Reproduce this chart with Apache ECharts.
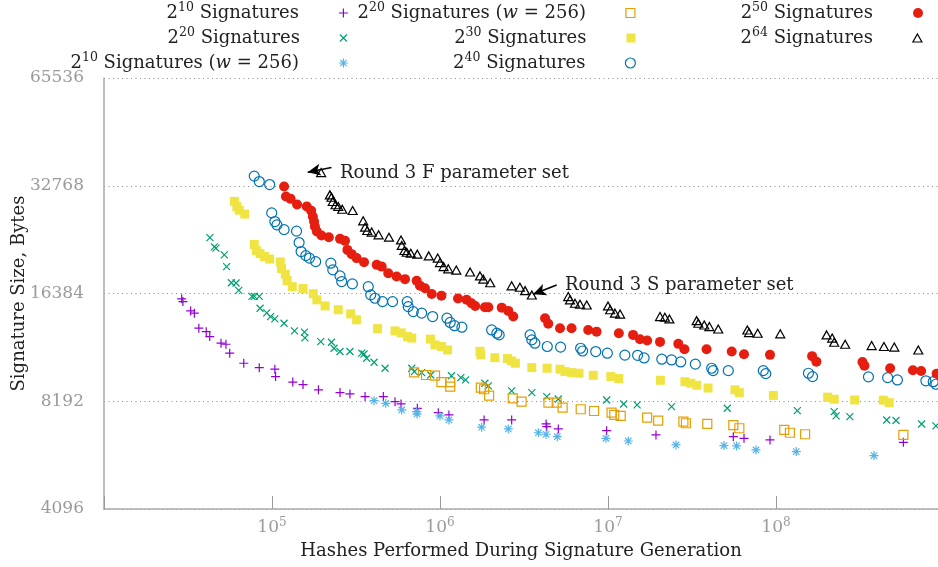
<!DOCTYPE html>
<html><head><meta charset="utf-8">
<script src="https://cdn.jsdelivr.net/npm/echarts@6/dist/echarts.min.js"></script>
<style>html,body{margin:0;padding:0;background:#fff}#c{width:938px;height:567px}</style>
</head><body><div id="c"></div>
<script>
// ---------------- data ----------------
const xTickExponents = [5, 6, 7, 8];
const xRange = [1e4, 9.21e8];
const yTickLabels = [4096, 8192, 16384, 32768, 65536];
const seriesNames = ['2^10 Signatures', '2^20 Signatures', '2^10 Signatures (w=256)', '2^20 Signatures (w=256)',
  '2^30 Signatures', '2^40 Signatures', '2^50 Signatures', '2^64 Signatures'];

const sig10 = [[2.90e4,15830],[2.95e4,15550],[3.28e4,14650],[3.45e4,14440],[3.67e4,13110],[4.06e4,12820],[4.26e4,12420],
  [4.97e4,11900],[5.32e4,11820],[5.60e4,11160],[6.79e4,10460],[8.40e4,10170],[1.04e5,10070],[1.05e5,9600],[1.33e5,9265],
  [1.53e5,9120],[1.89e5,8815],[2.54e5,8660],[2.91e5,8585],[3.58e5,8440],[4.60e5,8440],[5.40e5,8170],[5.86e5,8050],
  [7.33e5,7830],[9.77e5,7612],[1.13e6,7502],[1.83e6,7263],[2.67e6,7263],[4.28e6,7078],[4.32e6,6955],[5.06e6,6855],
  [9.82e6,6780],[1.93e7,6595],[5.57e7,6522],[6.45e7,6454],[9.21e7,6387],[5.73e8,6290]];

const sig20 = [[4.27e4,23480],[4.54e4,22120],[4.64e4,21940],[5.20e4,21000],[5.37e4,19480],[5.73e4,17560],[6.11e4,17530],
  [6.34e4,16710],[7.60e4,16080],[7.85e4,16080],[8.40e4,16080],[8.49e4,14900],[9.30e4,14470],[9.80e4,14125],[1.04e5,13915],
  [1.18e5,13530],[1.36e5,12880],[1.56e5,12775],[1.57e5,12315],[1.95e5,12020],[2.26e5,11976],[2.34e5,11520],[2.54e5,11280],
  [2.91e5,11280],[3.42e5,11160],[3.53e5,11105],[3.66e5,10805],[4.05e5,10530],[4.71e5,10130],[6.79e5,10130],[7.04e5,9915],
  [7.78e5,9850],[8.81e5,9700],[1.17e6,9655],[1.33e6,9535],[1.42e6,9395],[1.85e6,9200],[1.94e6,9045],[2.67e6,8760],
  [3.52e6,8660],[4.32e6,8440],[5.06e6,8312],[9.82e6,8260],[1.24e7,8050],[1.49e7,8000],[2.39e7,7910],[5.13e7,7830],
  [1.34e8,7710],[2.22e8,7660],[2.28e8,7455],[2.75e8,7420],[4.56e8,7263],[5.18e8,7240],[7.36e8,7078],[8.95e8,6990]];

const sig10w = [[4.05e5,8225],[4.75e5,8085],[5.92e5,7745],[7.26e5,7660],[7.30e5,7550],[1.00e6,7455],[1.13e6,7263],
  [1.77e6,6932],[2.55e6,6855],[3.85e6,6690],[4.28e6,6625],[4.99e6,6522],[9.72e6,6454],[1.32e7,6344],[2.54e7,6185],
  [4.90e7,6160],[5.83e7,6147],[7.60e7,5990],[1.32e8,5925],[3.83e8,5775]];

const sig20w = [[7.00e5,9870],[8.26e5,9700],[9.34e5,9655],[1.02e6,9265],[1.15e6,9265],[1.15e6,9005],[1.75e6,8945],
  [1.83e6,8850],[1.96e6,8495],[2.71e6,8350],[3.06e6,8170],[4.42e6,8118],[4.95e6,8118],[5.37e6,7860],[6.88e6,7780],
  [8.26e6,7695],[1.05e7,7612],[1.09e7,7502],[1.19e7,7455],[1.71e7,7375],[1.99e7,7235],[2.81e7,7190],[2.91e7,7110],
  [3.90e7,7078],[5.57e7,7030],[6.05e7,6885],[1.12e8,6810],[1.21e8,6690],[1.49e8,6625],[5.73e8,6595]];

const sig30 = [[5.97e4,29640],[6.18e4,28670],[6.38e4,28000],[6.88e4,27310],[7.84e4,22450],[8.07e4,21580],[8.49e4,21180],
  [9.02e4,20790],[9.68e4,20450],[1.12e5,20075],[1.14e5,19240],[1.20e5,18560],[1.23e5,17810],[1.32e5,17120],[1.53e5,16910],
  [1.76e5,16360],[1.85e5,15730],[2.07e5,15125],[2.48e5,14760],[2.94e5,14375],[3.19e5,13830],[4.25e5,13070],[5.40e5,12880],
  [5.88e5,12715],[6.41e5,12420],[6.79e5,12300],[8.77e5,12222],[9.33e5,11770],[1.02e6,11650],[1.11e6,11395],[1.73e6,11300],
  [1.75e6,11040],[2.12e6,10840],[2.52e6,10780],[2.67e6,10615],[2.81e6,10460],[3.52e6,10170],[4.34e6,10130],[5.18e6,10070],
  [5.54e6,9915],[6.08e6,9850],[6.72e6,9810],[8.17e6,9680],[1.04e7,9600],[1.16e7,9480],[2.05e7,9375],[2.87e7,9290],
  [3.11e7,9200],[3.38e7,9080],[3.94e7,8920],[5.70e7,8815],[6.05e7,8660],[9.64e7,8505],[2.03e8,8410],[2.22e8,8300],
  [2.94e8,8260],[4.35e8,8250],[4.72e8,8118]];

const sig40 = [[7.84e4,34870],[8.40e4,33660],[9.68e4,33020],[9.96e4,27520],[1.04e5,26030],[1.07e5,25480],[1.18e5,24710],
  [1.40e5,24470],[1.45e5,22740],[1.49e5,21460],[1.59e5,20900],[1.67e5,20575],[1.82e5,20115],[2.24e5,19910],[2.30e5,19075],
  [2.54e5,18350],[2.60e5,17690],[3.01e5,17430],[3.74e5,17120],[3.87e5,16240],[4.10e5,15890],[4.55e5,15553],[5.22e5,15553],
  [6.38e5,15553],[6.47e5,15055],[6.93e5,14580],[7.78e5,14440],[9.04e5,14125],[1.10e6,13980],[1.15e6,13600],[1.22e6,13320],
  [1.35e6,13190],[2.03e6,12960],[2.18e6,12690],[2.25e6,12555],[3.44e6,12555],[3.52e6,12155],[3.67e6,11900],[4.35e6,11650],
  [5.22e6,11605],[6.87e6,11520],[7.06e6,11320],[8.45e6,11280],[9.91e6,11160],[1.26e7,11020],[1.50e7,11010],[1.64e7,10825],
  [2.09e7,10735],[2.39e7,10685],[2.71e7,10550],[3.31e7,10400],[4.14e7,10130],[4.22e7,9975],[5.20e7,9975],[8.40e7,9975],
  [8.69e7,9785],[1.56e8,9810],[1.65e8,9600],[3.55e8,9585],[4.62e8,9535],[5.28e8,9395],[7.80e8,9345],[8.63e8,9290],[8.95e8,9140]];

const sig50 = [[1.18e5,32600],[1.21e5,30570],[1.29e5,30115],[1.41e5,29050],[1.61e5,28670],[1.71e5,27920],[1.75e5,26880],
  [1.78e5,26030],[1.80e5,25200],[1.85e5,24410],[1.97e5,23790],[2.18e5,23540],[2.54e5,23285],[2.72e5,22990],[2.81e5,21690],
  [2.98e5,21105],[3.19e5,20575],[3.53e5,20040],[4.20e5,19700],[4.50e5,19480],[4.92e5,18665],[5.52e5,18270],[6.19e5,17970],
  [7.26e5,17780],[7.60e5,17235],[8.14e5,16945],[8.93e5,16340],[1.02e6,16160],[1.28e6,15870],[1.44e6,15730],[1.54e6,15390],
  [1.62e6,15125],[1.85e6,15000],[1.94e6,15000],[2.33e6,14960],[2.55e6,14650],[2.73e6,14125],[4.22e6,13980],[4.41e6,13480],
  [5.18e6,13107],[6.07e6,13107],[7.62e6,12960],[8.55e6,12820],[1.16e7,12690],[1.41e7,12555],[1.55e7,12210],[1.71e7,12110],
  [2.04e7,12000],[2.62e7,11850],[2.85e7,11450],[3.86e7,11450],[5.45e7,11280],[6.45e7,11090],[9.21e7,11040],[1.64e8,10950],
  [1.74e8,10570],[3.27e8,10550],[3.36e8,10300],[4.78e8,10130],[6.53e8,10000],[7.31e8,9955],[9.04e8,9785]];

const sig64 = [[1.96e5,35664],[2.21e5,30900],[2.26e5,30440],[2.30e5,29600],[2.39e5,29000],[2.48e5,28670],[2.62e5,28180],
  [3.02e5,27950],[3.49e5,26150],[3.58e5,25100],[3.69e5,24580],[3.92e5,24320],[4.31e5,23890],[4.97e5,23540],[5.86e5,23130],
  [5.92e5,22320],[6.14e5,21600],[6.34e5,21370],[6.70e5,21240],[7.33e5,21105],[8.57e5,20870],[9.69e5,20575],[1.00e6,19990],
  [1.05e6,19480],[1.12e6,19200],[1.25e6,19045],[1.51e6,18820],[1.73e6,18350],[1.81e6,17970],[1.99e6,17560],[2.67e6,17210],
  [2.99e6,17060],[3.21e6,16690],[3.52e6,16224],[5.80e6,16060],[5.94e6,15730],[6.36e6,15390],[6.81e6,15290],[7.47e6,15220],
  [1.00e7,15125],[1.03e7,14760],[1.10e7,14440],[1.18e7,14350],[2.04e7,14125],[2.18e7,14065],[2.32e7,13915],[3.37e7,13760],
  [3.45e7,13530],[3.74e7,13380],[4.01e7,13240],[4.53e7,13040],[6.75e7,12960],[6.91e7,12740],[7.78e7,12690],[1.06e8,12640],
  [2.00e8,12555],[2.16e8,12300],[2.22e8,11976],[2.58e8,11820],[3.71e8,11720],[4.39e8,11650],[5.06e8,11605],[7.03e8,11395]];

// annotations (data coordinates)
const annotationTexts = ['Round 3 F parameter set', 'Round 3 S parameter set'];
const annotationTextAt = [[2.54e5, 35550], [5.54e6, 17250]];
const arrowTip = [[1.63e5, 35760], [3.58e6, 16300]];
const arrowTail = [[2.26e5, 36830], [4.95e6, 17300]];

// ---------------- styling ----------------
const FONT = 'DejaVu Serif';
const TXT = '#222';
const GRAY = '#9a9a9a';
const colors = ['#9400D3', '#009E73', '#56B4E9', '#E69F00', '#F0E442', '#0072B2', '#E51E10', '#000000'];
const symbols = [
  'path://M0,4L8,4M4,0L4,8',
  'path://M0,0L7,7M7,0L0,7',
  'path://M0,4.5L9,4.5M4.5,0L4.5,9M1.3,1.3L7.7,7.7M7.7,1.3L1.3,7.7',
  'rect', 'rect', 'circle', 'circle', 'triangle'
];
const sizes = [[9, 9], [7, 7], [9, 9], [9, 9], [9, 9], [10, 10], [10, 10], [9, 8]];
const filled = [false, false, false, false, true, false, true, false];
const dataSets = [sig10, sig20, sig10w, sig20w, sig30, sig40, sig50, sig64];

const FS = 18;
const legendRich = {
  t: {fontFamily: FONT, fontSize: FS, color: TXT, lineHeight: 24},
  s: {fontFamily: FONT, fontSize: 12.5, color: TXT, verticalAlign: 'top', lineHeight: 12},
  i: {fontFamily: FONT, fontSize: FS, color: TXT, fontStyle: 'italic', lineHeight: 24},
  g: {width: 35, lineHeight: 24}
};
const legendLabels = {
  '2^10 Signatures': '{t|2}{s|10}{t| Signatures}{g| }',
  '2^20 Signatures': '{t|2}{s|20}{t| Signatures}{g| }',
  '2^10 Signatures (w=256)': '{t|2}{s|10}{t| Signatures (}{i|w}{t| = 256)}{g| }',
  '2^20 Signatures (w=256)': '{t|2}{s|20}{t| Signatures (}{i|w}{t| = 256)}{g| }',
  '2^30 Signatures': '{t|2}{s|30}{t| Signatures}{g| }',
  '2^40 Signatures': '{t|2}{s|40}{t| Signatures}{g| }',
  '2^50 Signatures': '{t|2}{s|50}{t| Signatures}{g| }',
  '2^64 Signatures': '{t|2}{s|64}{t| Signatures}{g| }'
};
// legend grid: icon centre x per column, row centre y
const legendCol = [0, 0, 0, 1, 1, 1, 2, 2];
const legendRow = [0, 1, 2, 0, 1, 2, 0, 1];
const colIconX = [344, 631, 918];
const rowY = [13, 38, 63];

const W = 938;
const legends = seriesNames.map((n, k) => {
  const w = sizes[k][0], h = sizes[k][1];
  return {
    data: [n], selectedMode: false, padding: 0,
    right: W - (colIconX[legendCol[k]] + w / 2),
    top: rowY[legendRow[k]] - 12,
    itemWidth: w, itemHeight: h, align: 'right',
    formatter: name => legendLabels[name],
    textStyle: {rich: legendRich},
    itemStyle: filled[k] ? {color: colors[k], borderWidth: 0}
                         : {color: 'transparent', borderColor: colors[k], borderWidth: 1.2}
  };
});

const series = seriesNames.map((n, k) => ({
  type: 'scatter', name: n, data: dataSets[k],
  symbol: symbols[k], symbolSize: sizes[k],
  itemStyle: filled[k] ? {color: colors[k], borderWidth: 0, opacity: 1}
                       : {color: 'transparent', borderColor: colors[k], borderWidth: 1.2, opacity: 1},
  emphasis: {disabled: true},
  silent: true
}));

// annotations on last series
series[7].markLine = {
  silent: true, animation: false,
  symbol: ['arrow', 'none'], symbolSize: [9, 13],
  lineStyle: {color: '#000', width: 1.6, type: 'solid'},
  label: {show: false},
  data: arrowTip.map((t, i) => [{coord: t}, {coord: arrowTail[i]}])
};
series[7].markPoint = {
  silent: true, animation: false,
  symbol: 'circle', symbolSize: 0,
  label: {show: true, position: 'right', distance: 0, fontFamily: FONT, fontSize: FS, color: TXT, formatter: '{b}'},
  data: annotationTexts.map((t, i) => ({name: t, coord: annotationTextAt[i]}))
};

const chart = echarts.init(document.getElementById('c'));
chart.setOption({
  animation: false,
  backgroundColor: '#fff',
  legend: legends,
  grid: {left: 104, right: 0, top: 78, bottom: 58, containLabel: false, outerBoundsMode: 'none'},
  xAxis: {
    type: 'log', logBase: 10, min: xRange[0], max: xRange[1],
    name: 'Hashes Performed During Signature Generation',
    nameLocation: 'middle', nameGap: 33, nameMoveOverlap: false,
    nameTextStyle: {fontFamily: FONT, fontSize: FS, color: TXT},
    axisLine: {lineStyle: {color: '#aaa', width: 1.5}},
    axisTick: {show: true, inside: true, length: 13, lineStyle: {color: '#999', width: 1}},
    splitLine: {show: false},
    minorTick: {show: false},
    axisLabel: {
      margin: 8,
      formatter: v => {
        const e = Math.round(Math.log10(v));
        return (xTickExponents.indexOf(e) >= 0 && Math.abs(Math.log10(v) - e) < 0.01) ? '{b|10}{s|' + e + '}' : '';
      },
      rich: {
        b: {fontFamily: FONT, fontSize: 17, color: GRAY, lineHeight: 22},
        s: {fontFamily: FONT, fontSize: 12, color: GRAY, verticalAlign: 'top', lineHeight: 12}
      }
    }
  },
  yAxis: {
    type: 'log', logBase: 2, min: yTickLabels[0], max: yTickLabels[yTickLabels.length - 1],
    name: 'Signature Size, Bytes',
    nameLocation: 'middle', nameGap: 76, nameRotate: 90, nameMoveOverlap: false,
    nameTextStyle: {fontFamily: FONT, fontSize: FS, color: TXT},
    axisLine: {show: true, lineStyle: {color: '#aaa', width: 1.5}},
    axisTick: {show: false},
    splitLine: {show: true, lineStyle: {color: '#888', width: 1, type: [1, 3.5]}},
    axisLabel: {
      margin: 20, fontFamily: FONT, fontSize: 17, color: GRAY,
      formatter: v => String(Math.round(v))
    }
  },
  series: series
});
</script></body></html>
